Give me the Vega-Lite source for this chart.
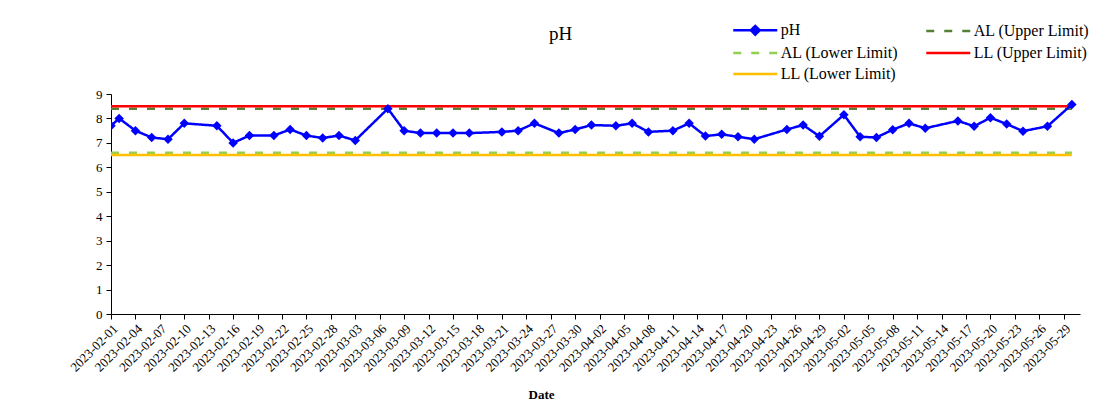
{
  "$schema": "https://vega.github.io/schema/vega-lite/v6.json",
  "width": 969,
  "height": 220,
  "autosize": {"type": "none"},
  "padding": {"left": 111, "top": 94, "right": 23, "bottom": 100},
  "background": "white",
  "config": {
    "font": "Liberation Serif",
    "view": {"stroke": null},
    "axis": {"grid": false, "domainColor": "black", "tickColor": "black", "labelColor": "black", "titleColor": "black", "labelFont": "Liberation Serif", "titleFont": "Liberation Serif"}
  },
  "title": {"text": "pH", "font": "Liberation Serif", "fontSize": 19, "fontWeight": "normal", "color": "black", "anchor": "middle", "baseline": "alphabetic", "offset": -37, "dx": -35},
  "data": {"values": [
    {"date": "2023-02-01", "value": 8.4, "series": "AL (Upper Limit)"},
    {"date": "2023-05-30", "value": 8.4, "series": "AL (Upper Limit)"},
    {"date": "2023-02-01", "value": 6.6, "series": "AL (Lower Limit)"},
    {"date": "2023-05-30", "value": 6.6, "series": "AL (Lower Limit)"},
    {"date": "2023-02-01", "value": 8.5, "series": "LL (Upper Limit)"},
    {"date": "2023-05-30", "value": 8.5, "series": "LL (Upper Limit)"},
    {"date": "2023-02-01", "value": 6.5, "series": "LL (Lower Limit)"},
    {"date": "2023-05-30", "value": 6.5, "series": "LL (Lower Limit)"},
    {"date": "2023-02-01", "value": 7.7, "series": "pH"},
    {"date": "2023-02-02", "value": 8.0, "series": "pH"},
    {"date": "2023-02-04", "value": 7.5, "series": "pH"},
    {"date": "2023-02-06", "value": 7.22, "series": "pH"},
    {"date": "2023-02-08", "value": 7.15, "series": "pH"},
    {"date": "2023-02-10", "value": 7.8, "series": "pH"},
    {"date": "2023-02-14", "value": 7.7, "series": "pH"},
    {"date": "2023-02-16", "value": 7.0, "series": "pH"},
    {"date": "2023-02-18", "value": 7.3, "series": "pH"},
    {"date": "2023-02-21", "value": 7.3, "series": "pH"},
    {"date": "2023-02-23", "value": 7.55, "series": "pH"},
    {"date": "2023-02-25", "value": 7.3, "series": "pH"},
    {"date": "2023-02-27", "value": 7.2, "series": "pH"},
    {"date": "2023-03-01", "value": 7.3, "series": "pH"},
    {"date": "2023-03-03", "value": 7.1, "series": "pH"},
    {"date": "2023-03-07", "value": 8.4, "series": "pH"},
    {"date": "2023-03-09", "value": 7.5, "series": "pH"},
    {"date": "2023-03-11", "value": 7.4, "series": "pH"},
    {"date": "2023-03-13", "value": 7.4, "series": "pH"},
    {"date": "2023-03-15", "value": 7.4, "series": "pH"},
    {"date": "2023-03-17", "value": 7.4, "series": "pH"},
    {"date": "2023-03-21", "value": 7.45, "series": "pH"},
    {"date": "2023-03-23", "value": 7.5, "series": "pH"},
    {"date": "2023-03-25", "value": 7.8, "series": "pH"},
    {"date": "2023-03-28", "value": 7.4, "series": "pH"},
    {"date": "2023-03-30", "value": 7.55, "series": "pH"},
    {"date": "2023-04-01", "value": 7.73, "series": "pH"},
    {"date": "2023-04-04", "value": 7.7, "series": "pH"},
    {"date": "2023-04-06", "value": 7.8, "series": "pH"},
    {"date": "2023-04-08", "value": 7.45, "series": "pH"},
    {"date": "2023-04-11", "value": 7.5, "series": "pH"},
    {"date": "2023-04-13", "value": 7.8, "series": "pH"},
    {"date": "2023-04-15", "value": 7.28, "series": "pH"},
    {"date": "2023-04-17", "value": 7.35, "series": "pH"},
    {"date": "2023-04-19", "value": 7.25, "series": "pH"},
    {"date": "2023-04-21", "value": 7.15, "series": "pH"},
    {"date": "2023-04-25", "value": 7.55, "series": "pH"},
    {"date": "2023-04-27", "value": 7.73, "series": "pH"},
    {"date": "2023-04-29", "value": 7.27, "series": "pH"},
    {"date": "2023-05-02", "value": 8.15, "series": "pH"},
    {"date": "2023-05-04", "value": 7.25, "series": "pH"},
    {"date": "2023-05-06", "value": 7.22, "series": "pH"},
    {"date": "2023-05-08", "value": 7.54, "series": "pH"},
    {"date": "2023-05-10", "value": 7.8, "series": "pH"},
    {"date": "2023-05-12", "value": 7.6, "series": "pH"},
    {"date": "2023-05-16", "value": 7.9, "series": "pH"},
    {"date": "2023-05-18", "value": 7.68, "series": "pH"},
    {"date": "2023-05-20", "value": 8.03, "series": "pH"},
    {"date": "2023-05-22", "value": 7.77, "series": "pH"},
    {"date": "2023-05-24", "value": 7.48, "series": "pH"},
    {"date": "2023-05-27", "value": 7.68, "series": "pH"},
    {"date": "2023-05-30", "value": 8.57, "series": "pH"}
  ]},
  "encoding": {
    "x": {
      "field": "date", "type": "temporal",
      "scale": {"type": "utc", "domain": [{"year": 2023, "month": 2, "date": 1, "utc": true}, {"year": 2023, "month": 5, "date": 31, "utc": true}]},
      "axis": {
        "values": [
          {"year": 2023, "month": 2, "date": 1, "utc": true}, {"year": 2023, "month": 2, "date": 4, "utc": true}, {"year": 2023, "month": 2, "date": 7, "utc": true}, {"year": 2023, "month": 2, "date": 10, "utc": true}, {"year": 2023, "month": 2, "date": 13, "utc": true}, {"year": 2023, "month": 2, "date": 16, "utc": true}, {"year": 2023, "month": 2, "date": 19, "utc": true}, {"year": 2023, "month": 2, "date": 22, "utc": true}, {"year": 2023, "month": 2, "date": 25, "utc": true}, {"year": 2023, "month": 2, "date": 28, "utc": true},
          {"year": 2023, "month": 3, "date": 3, "utc": true}, {"year": 2023, "month": 3, "date": 6, "utc": true}, {"year": 2023, "month": 3, "date": 9, "utc": true}, {"year": 2023, "month": 3, "date": 12, "utc": true}, {"year": 2023, "month": 3, "date": 15, "utc": true}, {"year": 2023, "month": 3, "date": 18, "utc": true}, {"year": 2023, "month": 3, "date": 21, "utc": true}, {"year": 2023, "month": 3, "date": 24, "utc": true}, {"year": 2023, "month": 3, "date": 27, "utc": true}, {"year": 2023, "month": 3, "date": 30, "utc": true},
          {"year": 2023, "month": 4, "date": 2, "utc": true}, {"year": 2023, "month": 4, "date": 5, "utc": true}, {"year": 2023, "month": 4, "date": 8, "utc": true}, {"year": 2023, "month": 4, "date": 11, "utc": true}, {"year": 2023, "month": 4, "date": 14, "utc": true}, {"year": 2023, "month": 4, "date": 17, "utc": true}, {"year": 2023, "month": 4, "date": 20, "utc": true}, {"year": 2023, "month": 4, "date": 23, "utc": true}, {"year": 2023, "month": 4, "date": 26, "utc": true}, {"year": 2023, "month": 4, "date": 29, "utc": true},
          {"year": 2023, "month": 5, "date": 2, "utc": true}, {"year": 2023, "month": 5, "date": 5, "utc": true}, {"year": 2023, "month": 5, "date": 8, "utc": true}, {"year": 2023, "month": 5, "date": 11, "utc": true}, {"year": 2023, "month": 5, "date": 14, "utc": true}, {"year": 2023, "month": 5, "date": 17, "utc": true}, {"year": 2023, "month": 5, "date": 20, "utc": true}, {"year": 2023, "month": 5, "date": 23, "utc": true}, {"year": 2023, "month": 5, "date": 26, "utc": true}, {"year": 2023, "month": 5, "date": 29, "utc": true}
        ],
        "format": "%Y-%m-%d",
        "labelAngle": -45,
        "labelFontSize": 13,
        "labelOverlap": false,
        "labelFlush": false,
        "labelBound": false,
        "labelPadding": 3,
        "tickSize": 5,
        "title": "Date",
        "titleFontSize": 13,
        "titleFontWeight": "bold",
        "titleX": 430,
        "titleY": 84,
        "titleBaseline": "alphabetic",
        "titleAnchor": "middle",
        "titleAlign": "center"
      }
    },
    "y": {
      "field": "value", "type": "quantitative",
      "scale": {"domain": [0, 9], "nice": false, "zero": true},
      "axis": {"values": [0, 1, 2, 3, 4, 5, 6, 7, 8, 9], "title": null, "tickSize": 5, "labelFontSize": 13, "labelPadding": 4}
    }
  },
  "layer": [
    {
      "mark": {"type": "line", "strokeWidth": 2.5, "clip": true},
      "encoding": {
        "color": {
          "field": "series", "type": "nominal",
          "scale": {"domain": ["pH", "AL (Upper Limit)", "AL (Lower Limit)", "LL (Upper Limit)", "LL (Lower Limit)"], "range": ["#0000FF", "#548235", "#92D050", "#FF0000", "#FFC000"]},
          "legend": {
            "title": null, "orient": "none", "legendX": 621, "legendY": -72, "columns": 2, "direction": "horizontal", "padding": 0,
            "symbolType": "M-4,0H4", "symbolSize": 121, "symbolStrokeWidth": 2.5, "symbolOffset": 15.25,
            "labelOffset": 17.5, "labelFont": "Liberation Serif", "labelFontSize": 16, "labelColor": "black", "labelLimit": 300,
            "columnPadding": 22, "rowPadding": 5,
            "encode": {"symbols": {"update": {
              "shape": {"signal": "datum.label === 'pH' ? 'M-4,0H4M0,-0.8L0.8,0L0,0.8L-0.8,0Z' : 'M-4,0H4'"},
              "fill": {"signal": "datum.label === 'pH' ? '#0000FF' : 'transparent'"}
            }}}
          }
        },
        "strokeDash": {
          "field": "series", "type": "nominal",
          "scale": {"domain": ["pH", "AL (Upper Limit)", "AL (Lower Limit)", "LL (Upper Limit)", "LL (Lower Limit)"], "range": [[1, 0], [8, 10], [8, 10], [1, 0], [1, 0]]},
          "legend": {
            "title": null, "orient": "none", "legendX": 621, "legendY": -72, "columns": 2, "direction": "horizontal", "padding": 0,
            "symbolType": "M-4,0H4", "symbolSize": 121, "symbolStrokeWidth": 2.5, "symbolOffset": 15.25,
            "labelOffset": 17.5, "labelFont": "Liberation Serif", "labelFontSize": 16, "labelColor": "black", "labelLimit": 300,
            "columnPadding": 22, "rowPadding": 5,
            "encode": {"symbols": {"update": {
              "shape": {"signal": "datum.label === 'pH' ? 'M-4,0H4M0,-0.8L0.8,0L0,0.8L-0.8,0Z' : 'M-4,0H4'"},
              "fill": {"signal": "datum.label === 'pH' ? '#0000FF' : 'transparent'"}
            }}}
          }
        }
      }
    },
    {
      "transform": [{"filter": "datum.series === 'pH'"}],
      "mark": {"type": "point", "shape": "diamond", "filled": true, "size": 90, "color": "#0000FF", "opacity": 1, "clip": true}
    }
  ]
}
